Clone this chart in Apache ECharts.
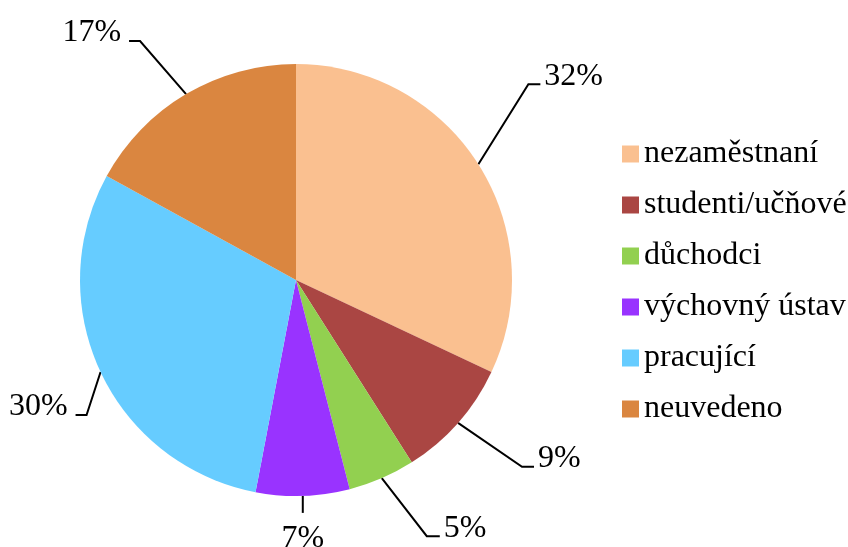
<!DOCTYPE html>
<html>
<head>
<meta charset="utf-8">
<script src="https://cdn.jsdelivr.net/npm/echarts@6/dist/echarts.min.js"></script>
<style>
html,body{margin:0;padding:0;background:#fff;}
#chart{width:848px;height:547px;}
</style>
</head>
<body>
<div id="chart"></div>
<script>
// ---- data ----
var categories = ['nezaměstnaní', 'studenti/učňové', 'důchodci', 'výchovný ústav', 'pracující', 'neuvedeno'];
var values = [32, 9, 5, 7, 30, 17];

// ---- styles ----
var colors = ['#FAC090', '#AA4643', '#92D050', '#9933FF', '#66CCFF', '#DA8640'];
// leader line shape per label: [knee offset x, knee offset y, horizontal run] from the slice edge point
var leaderShape = [[50, -80, 12], [64, 44, 12], [45, 58, 13], [0, 17, 0], [-14, 43, -11], [-46, -53, -11]];
var FONT = "'Liberation Serif', 'Times New Roman', serif";

var chart = echarts.init(document.getElementById('chart'), null, {renderer: 'canvas'});
chart.setOption({
  animation: false,
  backgroundColor: '#ffffff',
  legend: {
    orient: 'vertical',
    left: 622,
    top: 138,
    padding: 0,
    itemWidth: 17,
    itemHeight: 17,
    itemGap: 19,
    icon: 'rect',
    selectedMode: false,
    textStyle: {fontFamily: FONT, fontSize: 32, color: '#000'},
    data: categories
  },
  series: [{
    type: 'pie',
    center: [296, 280],
    radius: 216,
    startAngle: 90,
    clockwise: true,
    avoidLabelOverlap: false,
    silent: true,
    itemStyle: {borderWidth: 0},
    label: {
      show: true,
      position: 'outside',
      formatter: '{c}%',
      fontFamily: FONT,
      fontSize: 32,
      color: '#000'
    },
    labelLine: {show: true, length: 20, length2: 10, lineStyle: {color: '#000', width: 2}},
    labelLayout: function (p) {
      var g = leaderShape[p.dataIndex];
      var e = p.labelLinePoints[0];
      var kx = e[0] + g[0], ky = e[1] + g[1];
      var end = [kx + g[2], ky];
      var res = {verticalAlign: 'middle', labelLinePoints: [[e[0], e[1]], [kx, ky], end]};
      if (g[2] > 0) { res.x = end[0] + 4; res.y = ky - 8; res.align = 'left'; }
      else if (g[2] < 0) { res.x = end[0] - 8; res.y = ky - 8; res.align = 'right'; }
      else { res.x = kx; res.y = ky + 26; res.align = 'center'; }
      return res;
    },
    data: categories.map(function (n, i) {
      return {name: n, value: values[i], itemStyle: {color: colors[i]}};
    })
  }]
});
</script>
</body>
</html>
